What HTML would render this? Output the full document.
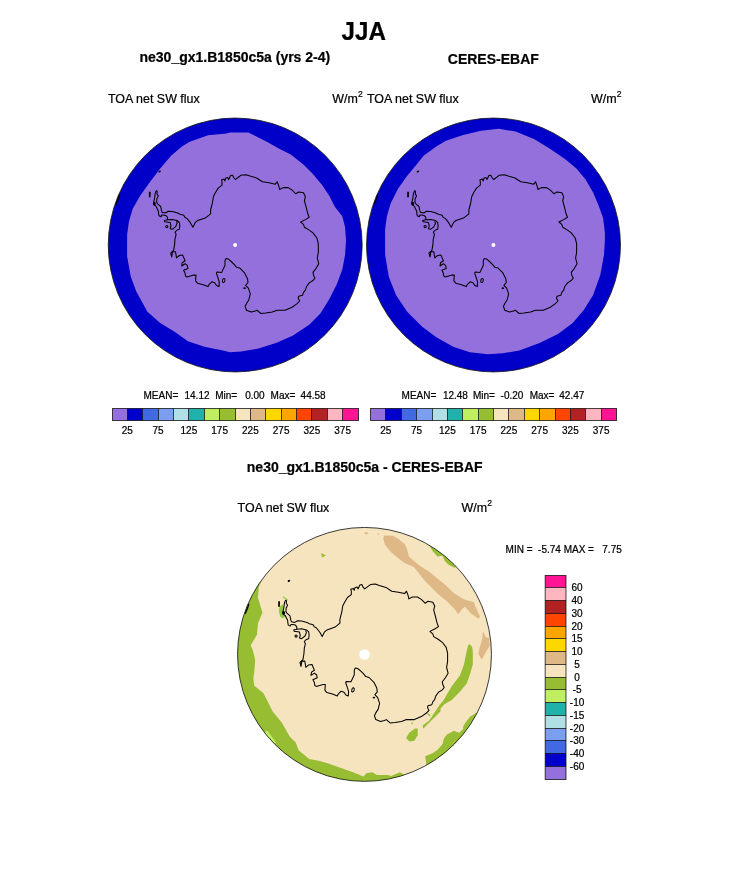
<!DOCTYPE html>
<html><head><meta charset="utf-8"><style>
html,body{margin:0;padding:0;background:#fff;}
svg{display:block;}
text{font-family:"Liberation Sans",sans-serif;fill:#000;stroke:#000;stroke-width:0.22px;}
svg{-webkit-font-smoothing:antialiased;}
.b{font-weight:bold;}
</style></head><body>
<div style="will-change:transform;width:733px;height:882px;background:#fff"><svg width="733" height="882" viewBox="0 0 733 882">
<defs>
<clipPath id="cL"><circle cx="235.2" cy="245.0" r="126.95"/></clipPath>
<clipPath id="cR"><circle cx="493.5" cy="245.0" r="126.95"/></clipPath>
<clipPath id="cB"><circle cx="364.5" cy="654.4" r="126.95"/></clipPath>
</defs>
<rect width="733" height="882" fill="#fff"/>
<text class="b" x="341.6" y="40.1" font-size="24.2" transform="translate(0,40.1) scale(1,1.06) translate(0,-40.1)">JJA</text>
<text class="b" x="139.5" y="61.9" font-size="14.0">ne30_gx1.B1850c5a (yrs 2-4)</text>
<text class="b" x="447.8" y="63.7" font-size="14.0">CERES-EBAF</text>
<text x="108" y="102.9" font-size="12.45">TOA net SW flux</text>
<text x="332.2" y="102.7" font-size="12.45">W/m<tspan font-size="8.6" dy="-6.1" dx="0.3">2</tspan></text>
<text x="367" y="102.9" font-size="12.45">TOA net SW flux</text>
<text x="591" y="102.7" font-size="12.45">W/m<tspan font-size="8.6" dy="-6.1" dx="0.3">2</tspan></text>

<!-- left map -->
<g clip-path="url(#cL)">
<circle cx="235.2" cy="245.0" r="127.95" fill="#0000C8"/>
<path d="M230.0,132.5 L248.4,132.5 L253.9,135.3 L266.8,141.7 L279.7,149.1 L290.8,154.6 L303.7,164.7 L312.9,173.9 L322.1,185.0 L329.4,196.0 L335.0,207.1 L342.3,216.3 L345.1,227.3 L346.0,240.2 L345.1,254.7 L342.3,269.5 L336.8,284.2 L329.4,298.9 L320.2,313.7 L309.2,324.7 L292.6,335.8 L276.0,343.1 L257.6,348.7 L241.0,351.4 L230.0,352.3 L222.9,350.5 L204.4,346.8 L187.9,341.3 L175.0,332.1 L160.2,322.9 L147.4,311.8 L136.3,291.6 L130.8,276.8 L127.1,256.6 L127.1,240.0 L127.1,234.7 L128.9,221.8 L132.6,208.9 L140.0,196.0 L149.2,183.1 L160.2,168.4 L171.3,155.5 L182.3,146.3 L189.7,141.7 L208.1,135.3 L226.5,133.4Z" fill="#9370DB"/>
</g>
<g transform="translate(235.2,245.0)" fill="none" stroke="#000" stroke-width="1.05" stroke-linejoin="round">
<path d="M-77.9,-53.9 L-78.3,-51.1 L-76.9,-49.1 L-78.3,-46.4 L-78.6,-42.9 L-77.6,-41.2 L-74.5,-38.5 L-73.8,-34.8 L-73.1,-32.7 L-69.7,-32.0 L-67.0,-33.7 L-62.9,-33.4 L-57.5,-32.0 L-55.2,-30.7 L-51.4,-29.7 L-50.4,-27.8 L-48.0,-26.4 L-44.7,-22.1 L-42.3,-17.8 L-39.9,-22.6 L-37.5,-24.5 L-29.4,-27.3 L-24.6,-31.2 L-24.6,-35.0 L-22.7,-42.6 L-21.8,-48.3 L-19.9,-52.2 L-17.0,-56.9 L-13.2,-59.8 L-13.2,-63.6 L-13.7,-65.1 L-11.3,-66.0 L-10.3,-64.1 L-9.4,-67.0 L-7.4,-67.4 L-6.5,-65.5 L-4.6,-69.4 L-2.7,-69.8 L-1.2,-67.0 L0.2,-65.5 L5.9,-69.8 L10.7,-70.3 L14.8,-68.9 L21.5,-67.0 L27.2,-63.2 L33.9,-62.2 L40.1,-60.8 L42.0,-63.2 L43.5,-59.3 L44.4,-55.5 L47.8,-57.4 L53.0,-57.4 L56.8,-55.0 L60.6,-51.2 L63.5,-53.1 L68.3,-52.2 L70.2,-48.3 L69.2,-44.5 L71.2,-36.9 L72.6,-31.2 L74.0,-27.8 L70.2,-25.4 L65.4,-23.0 L68.3,-20.6 L69.2,-17.8 L74.0,-14.9 L77.8,-12.1 L81.7,-7.0 L83.1,-1.3 L83.1,7.3 L82.1,13.1 L83.6,18.8 L80.7,23.6 L77.8,27.4 L78.3,30.2 L79.7,33.1 L77.8,35.5 L74.0,37.9 L71.2,41.7 L70.2,45.1 L68.3,47.4 L67.3,50.3 L63.5,51.3 L63.0,53.2 L64.5,56.0 L61.6,58.9 L56.8,62.2 L49.8,65.2 L41.9,65.2 L37.1,67.1 L30.4,68.0 L25.6,68.5 L21.8,65.2 L19.9,66.1 L16.1,67.1 L11.3,65.2 L9.9,61.4 L11.3,58.5 L13.7,54.7 L15.1,48.9 L13.2,43.2 L10.4,40.3 L12.8,37.5 L12.3,33.7 L9.4,27.9 L4.6,23.1 L1.3,22.2 L-1.1,19.3 L-4.0,16.5 L-6.8,14.1 L-9.2,13.6 L-10.2,15.5 L-10.2,20.3 L-13.5,27.4 L-18.3,27.0 L-18.8,28.4 L-16.9,33.7 L-15.9,37.5 L-16.2,41.6 L-18.6,40.6 L-20.5,37.8 L-23.4,36.8 L-26.3,39.7 L-27.2,41.6 L-32.0,39.7 L-37.7,38.2 L-39.6,35.8 L-39.2,30.1 L-41.5,30.1 L-48.2,32.0 L-49.7,31.1 L-50.1,28.2 L-51.6,25.3 L-47.3,23.4 L-47.8,20.6 L-50.1,18.7 L-53.5,21.0 L-53.0,17.7 L-50.1,15.8 L-52.5,10.1 L-55.9,10.5 L-58.7,12.9 L-59.7,6.7 L-62.6,6.7 L-63.5,12.0 L-64.5,8.1 L-61.6,5.3 L-60.6,-0.4 L-60.2,-6.2 L-59.2,-10.0 L-59.2,-10.9 L-60.2,-12.9 L-58.1,-15.0 L-55.8,-15.7 L-55.4,-19.1 L-55.8,-22.5 L-58.1,-24.5 L-62.9,-25.6 L-67.7,-25.2 L-70.8,-24.5 L-70.4,-23.2 L-65.0,-22.5 L-64.3,-19.1 L-65.0,-16.3 L-62.9,-15.7 L-59.5,-18.4 L-58.1,-21.8 L-58.8,-23.8"/>
<path d="M-67.7,-25.2 L-67.7,-27.6 L-69.1,-29.3 L-71.8,-30.0 L-73.5,-30.0 L-74.2,-28.3 L-76.2,-29.3 L-76.6,-31.4 L-76.9,-34.1 L-77.9,-36.1 L-79.3,-38.9 L-81.3,-40.2 L-81.7,-42.3 L-80.7,-46.4 L-80.0,-51.8 L-78.9,-54.2 L-77.9,-53.9"/>
<circle cx="-68.4" cy="-18.4" r="1.1"/>
<ellipse cx="-11.5" cy="35.5" rx="1.2" ry="2.1" transform="rotate(15 -11.5 35.5)"/>
<ellipse cx="-80.8" cy="-41.4" rx="1.4" ry="1.9" fill="#000" stroke="none"/>
<path d="M-85.4,-53.2 L-85.5,-47.7" stroke-width="1.7"/>
<ellipse cx="-75.6" cy="-73.5" rx="1.4" ry="0.9" transform="rotate(-30 -75.6 -73.5)" fill="#000" stroke="none"/>
<ellipse cx="9.4" cy="43.2" rx="1.3" ry="0.9" fill="#000" stroke="none"/>
<path d="M-115.7,-50.6 L-116.9,-46.5 L-119.4,-40.8" stroke-width="1.4"/>
</g>
<circle cx="235.1" cy="245.1" r="2" fill="#fff"/>
<circle cx="235.2" cy="245.0" r="126.95" fill="none" stroke="#1a1a1a" stroke-width="0.85"/>

<!-- right map -->
<g clip-path="url(#cR)">
<circle cx="493.5" cy="245.0" r="127.95" fill="#0000C8"/>
<path d="M480.9,130.7 L499.0,128.8 L515.6,131.6 L534.0,138.9 L548.8,148.1 L565.3,159.2 L576.4,168.4 L585.6,179.5 L593.0,192.3 L598.5,205.2 L603.1,218.1 L604.9,232.9 L604.9,240.0 L604.0,254.7 L600.3,275.0 L593.0,295.2 L583.8,310.0 L572.7,322.9 L558.0,333.9 L539.6,343.1 L519.3,350.5 L502.7,353.3 L488.0,354.2 L469.8,352.3 L453.2,346.8 L436.7,337.6 L421.9,326.6 L407.2,311.8 L396.1,295.2 L388.8,276.8 L385.1,254.7 L385.1,240.0 L385.1,229.2 L386.9,216.3 L390.6,203.4 L398.0,188.7 L407.2,175.8 L416.4,164.7 L423.8,155.5 L436.7,146.3 L445.9,140.8 L462.4,135.3Z" fill="#9370DB"/>
</g>
<g transform="translate(493.5,245.0)" fill="none" stroke="#000" stroke-width="1.05" stroke-linejoin="round">
<path d="M-77.9,-53.9 L-78.3,-51.1 L-76.9,-49.1 L-78.3,-46.4 L-78.6,-42.9 L-77.6,-41.2 L-74.5,-38.5 L-73.8,-34.8 L-73.1,-32.7 L-69.7,-32.0 L-67.0,-33.7 L-62.9,-33.4 L-57.5,-32.0 L-55.2,-30.7 L-51.4,-29.7 L-50.4,-27.8 L-48.0,-26.4 L-44.7,-22.1 L-42.3,-17.8 L-39.9,-22.6 L-37.5,-24.5 L-29.4,-27.3 L-24.6,-31.2 L-24.6,-35.0 L-22.7,-42.6 L-21.8,-48.3 L-19.9,-52.2 L-17.0,-56.9 L-13.2,-59.8 L-13.2,-63.6 L-13.7,-65.1 L-11.3,-66.0 L-10.3,-64.1 L-9.4,-67.0 L-7.4,-67.4 L-6.5,-65.5 L-4.6,-69.4 L-2.7,-69.8 L-1.2,-67.0 L0.2,-65.5 L5.9,-69.8 L10.7,-70.3 L14.8,-68.9 L21.5,-67.0 L27.2,-63.2 L33.9,-62.2 L40.1,-60.8 L42.0,-63.2 L43.5,-59.3 L44.4,-55.5 L47.8,-57.4 L53.0,-57.4 L56.8,-55.0 L60.6,-51.2 L63.5,-53.1 L68.3,-52.2 L70.2,-48.3 L69.2,-44.5 L71.2,-36.9 L72.6,-31.2 L74.0,-27.8 L70.2,-25.4 L65.4,-23.0 L68.3,-20.6 L69.2,-17.8 L74.0,-14.9 L77.8,-12.1 L81.7,-7.0 L83.1,-1.3 L83.1,7.3 L82.1,13.1 L83.6,18.8 L80.7,23.6 L77.8,27.4 L78.3,30.2 L79.7,33.1 L77.8,35.5 L74.0,37.9 L71.2,41.7 L70.2,45.1 L68.3,47.4 L67.3,50.3 L63.5,51.3 L63.0,53.2 L64.5,56.0 L61.6,58.9 L56.8,62.2 L49.8,65.2 L41.9,65.2 L37.1,67.1 L30.4,68.0 L25.6,68.5 L21.8,65.2 L19.9,66.1 L16.1,67.1 L11.3,65.2 L9.9,61.4 L11.3,58.5 L13.7,54.7 L15.1,48.9 L13.2,43.2 L10.4,40.3 L12.8,37.5 L12.3,33.7 L9.4,27.9 L4.6,23.1 L1.3,22.2 L-1.1,19.3 L-4.0,16.5 L-6.8,14.1 L-9.2,13.6 L-10.2,15.5 L-10.2,20.3 L-13.5,27.4 L-18.3,27.0 L-18.8,28.4 L-16.9,33.7 L-15.9,37.5 L-16.2,41.6 L-18.6,40.6 L-20.5,37.8 L-23.4,36.8 L-26.3,39.7 L-27.2,41.6 L-32.0,39.7 L-37.7,38.2 L-39.6,35.8 L-39.2,30.1 L-41.5,30.1 L-48.2,32.0 L-49.7,31.1 L-50.1,28.2 L-51.6,25.3 L-47.3,23.4 L-47.8,20.6 L-50.1,18.7 L-53.5,21.0 L-53.0,17.7 L-50.1,15.8 L-52.5,10.1 L-55.9,10.5 L-58.7,12.9 L-59.7,6.7 L-62.6,6.7 L-63.5,12.0 L-64.5,8.1 L-61.6,5.3 L-60.6,-0.4 L-60.2,-6.2 L-59.2,-10.0 L-59.2,-10.9 L-60.2,-12.9 L-58.1,-15.0 L-55.8,-15.7 L-55.4,-19.1 L-55.8,-22.5 L-58.1,-24.5 L-62.9,-25.6 L-67.7,-25.2 L-70.8,-24.5 L-70.4,-23.2 L-65.0,-22.5 L-64.3,-19.1 L-65.0,-16.3 L-62.9,-15.7 L-59.5,-18.4 L-58.1,-21.8 L-58.8,-23.8"/>
<path d="M-67.7,-25.2 L-67.7,-27.6 L-69.1,-29.3 L-71.8,-30.0 L-73.5,-30.0 L-74.2,-28.3 L-76.2,-29.3 L-76.6,-31.4 L-76.9,-34.1 L-77.9,-36.1 L-79.3,-38.9 L-81.3,-40.2 L-81.7,-42.3 L-80.7,-46.4 L-80.0,-51.8 L-78.9,-54.2 L-77.9,-53.9"/>
<circle cx="-68.4" cy="-18.4" r="1.1"/>
<ellipse cx="-11.5" cy="35.5" rx="1.2" ry="2.1" transform="rotate(15 -11.5 35.5)"/>
<ellipse cx="-80.8" cy="-41.4" rx="1.4" ry="1.9" fill="#000" stroke="none"/>
<path d="M-85.4,-53.2 L-85.5,-47.7" stroke-width="1.7"/>
<ellipse cx="-75.6" cy="-73.5" rx="1.4" ry="0.9" transform="rotate(-30 -75.6 -73.5)" fill="#000" stroke="none"/>
<ellipse cx="9.4" cy="43.2" rx="1.3" ry="0.9" fill="#000" stroke="none"/>
<path d="M-115.7,-50.6 L-116.9,-46.5 L-119.4,-40.8" stroke-width="1.4"/>
</g>
<circle cx="493.4" cy="245.1" r="2" fill="#fff"/>
<circle cx="493.5" cy="245.0" r="126.95" fill="none" stroke="#1a1a1a" stroke-width="0.85"/>

<text x="143.5" y="399.3" font-size="10">MEAN=</text>
<text x="184.5" y="399.3" font-size="10">14.12</text>
<text x="215.2" y="399.3" font-size="10">Min=</text>
<text x="245.2" y="399.3" font-size="10">0.00</text>
<text x="270.6" y="399.3" font-size="10">Max=</text>
<text x="300.6" y="399.3" font-size="10">44.58</text>
<rect x="112.50" y="408.5" width="15.00" height="12.0" fill="#9370DB"/><rect x="127.50" y="408.5" width="15.00" height="12.0" fill="#0000CD"/><rect x="142.50" y="408.5" width="16.00" height="12.0" fill="#4169E1"/><rect x="158.50" y="408.5" width="15.00" height="12.0" fill="#7B9EF0"/><rect x="173.50" y="408.5" width="15.00" height="12.0" fill="#B0E0E6"/><rect x="188.50" y="408.5" width="16.00" height="12.0" fill="#20B2AA"/><rect x="204.50" y="408.5" width="15.00" height="12.0" fill="#BFEF60"/><rect x="219.50" y="408.5" width="16.00" height="12.0" fill="#97BD32"/><rect x="235.50" y="408.5" width="15.00" height="12.0" fill="#F5E4BE"/><rect x="250.50" y="408.5" width="15.00" height="12.0" fill="#DEB887"/><rect x="265.50" y="408.5" width="16.00" height="12.0" fill="#FFD700"/><rect x="281.50" y="408.5" width="15.00" height="12.0" fill="#FFA500"/><rect x="296.50" y="408.5" width="15.00" height="12.0" fill="#FF4500"/><rect x="311.50" y="408.5" width="16.00" height="12.0" fill="#B22222"/><rect x="327.50" y="408.5" width="15.00" height="12.0" fill="#FFB6C1"/><rect x="342.50" y="408.5" width="16.00" height="12.0" fill="#FF1493"/><line x1="127.50" y1="408.5" x2="127.50" y2="420.5" stroke="#000" stroke-width="1" stroke-opacity="0.72"/><line x1="142.50" y1="408.5" x2="142.50" y2="420.5" stroke="#000" stroke-width="1" stroke-opacity="0.72"/><line x1="158.50" y1="408.5" x2="158.50" y2="420.5" stroke="#000" stroke-width="1" stroke-opacity="0.72"/><line x1="173.50" y1="408.5" x2="173.50" y2="420.5" stroke="#000" stroke-width="1" stroke-opacity="0.72"/><line x1="188.50" y1="408.5" x2="188.50" y2="420.5" stroke="#000" stroke-width="1" stroke-opacity="0.72"/><line x1="204.50" y1="408.5" x2="204.50" y2="420.5" stroke="#000" stroke-width="1" stroke-opacity="0.72"/><line x1="219.50" y1="408.5" x2="219.50" y2="420.5" stroke="#000" stroke-width="1" stroke-opacity="0.72"/><line x1="235.50" y1="408.5" x2="235.50" y2="420.5" stroke="#000" stroke-width="1" stroke-opacity="0.72"/><line x1="250.50" y1="408.5" x2="250.50" y2="420.5" stroke="#000" stroke-width="1" stroke-opacity="0.72"/><line x1="265.50" y1="408.5" x2="265.50" y2="420.5" stroke="#000" stroke-width="1" stroke-opacity="0.72"/><line x1="281.50" y1="408.5" x2="281.50" y2="420.5" stroke="#000" stroke-width="1" stroke-opacity="0.72"/><line x1="296.50" y1="408.5" x2="296.50" y2="420.5" stroke="#000" stroke-width="1" stroke-opacity="0.72"/><line x1="311.50" y1="408.5" x2="311.50" y2="420.5" stroke="#000" stroke-width="1" stroke-opacity="0.72"/><line x1="327.50" y1="408.5" x2="327.50" y2="420.5" stroke="#000" stroke-width="1" stroke-opacity="0.72"/><line x1="342.50" y1="408.5" x2="342.50" y2="420.5" stroke="#000" stroke-width="1" stroke-opacity="0.72"/><rect x="112.5" y="408.5" width="246.00" height="12.0" fill="none" stroke="#000" stroke-width="1" stroke-opacity="0.72"/><text x="127.38" y="434.2" text-anchor="middle" font-size="10">25</text><text x="158.12" y="434.2" text-anchor="middle" font-size="10">75</text><text x="188.88" y="434.2" text-anchor="middle" font-size="10">125</text><text x="219.62" y="434.2" text-anchor="middle" font-size="10">175</text><text x="250.38" y="434.2" text-anchor="middle" font-size="10">225</text><text x="281.12" y="434.2" text-anchor="middle" font-size="10">275</text><text x="311.88" y="434.2" text-anchor="middle" font-size="10">325</text><text x="342.62" y="434.2" text-anchor="middle" font-size="10">375</text>

<text x="401.6" y="399.3" font-size="10">MEAN=</text>
<text x="442.9" y="399.3" font-size="10">12.48</text>
<text x="472.9" y="399.3" font-size="10">Min=</text>
<text x="500.6" y="399.3" font-size="10">-0.20</text>
<text x="529.7" y="399.3" font-size="10">Max=</text>
<text x="559.3" y="399.3" font-size="10">42.47</text>
<rect x="370.50" y="408.5" width="15.00" height="12.0" fill="#9370DB"/><rect x="385.50" y="408.5" width="16.00" height="12.0" fill="#0000CD"/><rect x="401.50" y="408.5" width="15.00" height="12.0" fill="#4169E1"/><rect x="416.50" y="408.5" width="16.00" height="12.0" fill="#7B9EF0"/><rect x="432.50" y="408.5" width="15.00" height="12.0" fill="#B0E0E6"/><rect x="447.50" y="408.5" width="15.00" height="12.0" fill="#20B2AA"/><rect x="462.50" y="408.5" width="16.00" height="12.0" fill="#BFEF60"/><rect x="478.50" y="408.5" width="15.00" height="12.0" fill="#97BD32"/><rect x="493.50" y="408.5" width="15.00" height="12.0" fill="#F5E4BE"/><rect x="508.50" y="408.5" width="16.00" height="12.0" fill="#DEB887"/><rect x="524.50" y="408.5" width="15.00" height="12.0" fill="#FFD700"/><rect x="539.50" y="408.5" width="16.00" height="12.0" fill="#FFA500"/><rect x="555.50" y="408.5" width="15.00" height="12.0" fill="#FF4500"/><rect x="570.50" y="408.5" width="15.00" height="12.0" fill="#B22222"/><rect x="585.50" y="408.5" width="16.00" height="12.0" fill="#FFB6C1"/><rect x="601.50" y="408.5" width="15.00" height="12.0" fill="#FF1493"/><line x1="385.50" y1="408.5" x2="385.50" y2="420.5" stroke="#000" stroke-width="1" stroke-opacity="0.72"/><line x1="401.50" y1="408.5" x2="401.50" y2="420.5" stroke="#000" stroke-width="1" stroke-opacity="0.72"/><line x1="416.50" y1="408.5" x2="416.50" y2="420.5" stroke="#000" stroke-width="1" stroke-opacity="0.72"/><line x1="432.50" y1="408.5" x2="432.50" y2="420.5" stroke="#000" stroke-width="1" stroke-opacity="0.72"/><line x1="447.50" y1="408.5" x2="447.50" y2="420.5" stroke="#000" stroke-width="1" stroke-opacity="0.72"/><line x1="462.50" y1="408.5" x2="462.50" y2="420.5" stroke="#000" stroke-width="1" stroke-opacity="0.72"/><line x1="478.50" y1="408.5" x2="478.50" y2="420.5" stroke="#000" stroke-width="1" stroke-opacity="0.72"/><line x1="493.50" y1="408.5" x2="493.50" y2="420.5" stroke="#000" stroke-width="1" stroke-opacity="0.72"/><line x1="508.50" y1="408.5" x2="508.50" y2="420.5" stroke="#000" stroke-width="1" stroke-opacity="0.72"/><line x1="524.50" y1="408.5" x2="524.50" y2="420.5" stroke="#000" stroke-width="1" stroke-opacity="0.72"/><line x1="539.50" y1="408.5" x2="539.50" y2="420.5" stroke="#000" stroke-width="1" stroke-opacity="0.72"/><line x1="555.50" y1="408.5" x2="555.50" y2="420.5" stroke="#000" stroke-width="1" stroke-opacity="0.72"/><line x1="570.50" y1="408.5" x2="570.50" y2="420.5" stroke="#000" stroke-width="1" stroke-opacity="0.72"/><line x1="585.50" y1="408.5" x2="585.50" y2="420.5" stroke="#000" stroke-width="1" stroke-opacity="0.72"/><line x1="601.50" y1="408.5" x2="601.50" y2="420.5" stroke="#000" stroke-width="1" stroke-opacity="0.72"/><rect x="370.5" y="408.5" width="246.00" height="12.0" fill="none" stroke="#000" stroke-width="1" stroke-opacity="0.72"/><text x="385.88" y="434.2" text-anchor="middle" font-size="10">25</text><text x="416.62" y="434.2" text-anchor="middle" font-size="10">75</text><text x="447.38" y="434.2" text-anchor="middle" font-size="10">125</text><text x="478.12" y="434.2" text-anchor="middle" font-size="10">175</text><text x="508.88" y="434.2" text-anchor="middle" font-size="10">225</text><text x="539.62" y="434.2" text-anchor="middle" font-size="10">275</text><text x="570.38" y="434.2" text-anchor="middle" font-size="10">325</text><text x="601.12" y="434.2" text-anchor="middle" font-size="10">375</text>

<text class="b" x="246.8" y="471.6" font-size="14.0">ne30_gx1.B1850c5a - CERES-EBAF</text>
<text x="237.6" y="511.8" font-size="12.45">TOA net SW flux</text>
<text x="461.5" y="512.2" font-size="12.45">W/m<tspan font-size="8.6" dy="-6.1" dx="0.3">2</tspan></text>
<text x="505.6" y="553" font-size="10" xml:space="preserve">MIN =  -5.74 MAX =   7.75</text>

<!-- bottom map -->
<g clip-path="url(#cB)">
<circle cx="364.5" cy="654.4" r="127.95" fill="#F5E4BE"/>
<path d="M384.0,535.5 L393.0,535.8 L399.0,539.3 L405.0,544.5 L407.3,549.8 L408.8,556.5 L418.5,564.8 L423.0,567.8 L429.0,571.5 L438.0,579.0 L445.5,585.0 L453.0,592.5 L463.5,599.3 L474.0,602.3 L475.5,606.8 L480.0,616.5 L478.5,618.8 L471.0,613.5 L465.0,606.8 L462.0,609.0 L458.3,614.3 L454.5,609.0 L447.0,601.5 L438.0,594.0 L426.0,582.0 L421.5,576.8 L414.0,567.0 L405.0,563.3 L399.0,558.8 L390.0,551.3 L384.8,544.5 L383.3,538.5Z" fill="#DEB887"/>
<path d="M483.0,631.1 L485.7,637.2 L489.2,637.9 L489.8,645.4 L485.7,652.2 L481.7,659.7 L478.3,653.6 L480.3,645.4 L482.3,638.6Z" fill="#DEB887"/>
<ellipse cx="366.4" cy="533.2" rx="2" ry="1" fill="#DEB887"/>
<circle cx="378.3" cy="534.1" r="0.8" fill="#DEB887"/>
<path d="M261.6,581.1 L258.9,586.6 L257.9,597.7 L262.5,612.4 L257.9,623.4 L257.0,634.5 L250.6,645.5 L252.4,649.0 L255.2,660.0 L254.3,671.1 L253.3,678.5 L254.3,685.8 L263.5,693.2 L272.7,711.6 L281.9,722.7 L290.0,736.9 L295.7,742.6 L298.6,750.3 L309.1,758.9 L318.6,760.8 L328.2,763.6 L339.7,767.5 L353.0,772.2 L363.5,776.6 L366.4,773.2 L372.1,772.2 L376.9,775.1 L387.4,775.1 L391.2,776.1 L399.8,772.2 L404.6,775.1 L410.0,800.0 L220.0,800.0 L220.0,575.0 L258.0,575.0Z" fill="#97BD32"/>
<path d="M476.4,712.8 L470.3,716.4 L466.2,721.5 L463.1,726.6 L463.1,729.2 L459.0,732.7 L453.9,730.7 L446.7,734.8 L443.7,738.9 L442.6,744.0 L437.5,750.1 L432.4,753.2 L425.2,756.3 L426.3,764.5 L426.0,790.0 L520.0,790.0 L520.0,712.8Z" fill="#97BD32"/>
<path d="M430.5,547.5 L432.8,551.3 L437.3,556.5 L442.5,555.8 L444.8,561.0 L448.5,564.8 L454.5,567.8 L470.0,560.0 L440.0,530.0 L425.0,540.0Z" fill="#97BD32"/>
<path d="M469.4,644.1 L472.1,646.8 L472.8,650.9 L472.8,664.5 L470.1,674.0 L466.7,683.5 L459.9,691.7 L451.8,700.0 L444.7,704.1 L440.6,708.2 L440.6,711.3 L434.4,717.4 L428.3,723.5 L423.2,728.7 L422.7,725.6 L429.3,720.5 L433.4,714.3 L439.6,705.1 L443.7,700.0 L451.7,686.2 L459.9,675.4 L464.0,664.5 L466.7,650.9 L468.1,645.4Z" fill="#97BD32"/>
<path d="M417.7,728.4 L417.7,735.3 L414.3,740.7 L409.5,741.4 L406.1,738.0 L409.5,732.5 L415.0,728.4Z" fill="#97BD32"/>
<path d="M321.0,553.0 L326.0,555.5 L322.0,557.5Z" fill="#97BD32"/>
<path d="M427.3,713.3 L430.3,715.9" stroke="#97BD32" stroke-width="1.2"/>
<circle cx="412.2" cy="723.3" r="0.9" fill="#97BD32"/>
<path d="M282.3,604.3 L279.4,607.2 L278.8,611.3 L280.2,616.6 L282.3,618.2 L285.1,617.0 L283.5,612.9 L283.5,606.4Z" fill="#8FCB3A"/>
<path d="M283.1,596.2 L287.9,599.4 L287.2,600.3 L282.6,597.2Z" fill="#8FCB3A"/>
<path d="M265.5,731.5 L267.5,730.8 L276,742.5 L275,743.5 L263,733 Z" fill="#C1F060"/>
</g>
<g transform="translate(364.5,654.4)" fill="none" stroke="#000" stroke-width="1.05" stroke-linejoin="round">
<path d="M-77.9,-53.9 L-78.3,-51.1 L-76.9,-49.1 L-78.3,-46.4 L-78.6,-42.9 L-77.6,-41.2 L-74.5,-38.5 L-73.8,-34.8 L-73.1,-32.7 L-69.7,-32.0 L-67.0,-33.7 L-62.9,-33.4 L-57.5,-32.0 L-55.2,-30.7 L-51.4,-29.7 L-50.4,-27.8 L-48.0,-26.4 L-44.7,-22.1 L-42.3,-17.8 L-39.9,-22.6 L-37.5,-24.5 L-29.4,-27.3 L-24.6,-31.2 L-24.6,-35.0 L-22.7,-42.6 L-21.8,-48.3 L-19.9,-52.2 L-17.0,-56.9 L-13.2,-59.8 L-13.2,-63.6 L-13.7,-65.1 L-11.3,-66.0 L-10.3,-64.1 L-9.4,-67.0 L-7.4,-67.4 L-6.5,-65.5 L-4.6,-69.4 L-2.7,-69.8 L-1.2,-67.0 L0.2,-65.5 L5.9,-69.8 L10.7,-70.3 L14.8,-68.9 L21.5,-67.0 L27.2,-63.2 L33.9,-62.2 L40.1,-60.8 L42.0,-63.2 L43.5,-59.3 L44.4,-55.5 L47.8,-57.4 L53.0,-57.4 L56.8,-55.0 L60.6,-51.2 L63.5,-53.1 L68.3,-52.2 L70.2,-48.3 L69.2,-44.5 L71.2,-36.9 L72.6,-31.2 L74.0,-27.8 L70.2,-25.4 L65.4,-23.0 L68.3,-20.6 L69.2,-17.8 L74.0,-14.9 L77.8,-12.1 L81.7,-7.0 L83.1,-1.3 L83.1,7.3 L82.1,13.1 L83.6,18.8 L80.7,23.6 L77.8,27.4 L78.3,30.2 L79.7,33.1 L77.8,35.5 L74.0,37.9 L71.2,41.7 L70.2,45.1 L68.3,47.4 L67.3,50.3 L63.5,51.3 L63.0,53.2 L64.5,56.0 L61.6,58.9 L56.8,62.2 L49.8,65.2 L41.9,65.2 L37.1,67.1 L30.4,68.0 L25.6,68.5 L21.8,65.2 L19.9,66.1 L16.1,67.1 L11.3,65.2 L9.9,61.4 L11.3,58.5 L13.7,54.7 L15.1,48.9 L13.2,43.2 L10.4,40.3 L12.8,37.5 L12.3,33.7 L9.4,27.9 L4.6,23.1 L1.3,22.2 L-1.1,19.3 L-4.0,16.5 L-6.8,14.1 L-9.2,13.6 L-10.2,15.5 L-10.2,20.3 L-13.5,27.4 L-18.3,27.0 L-18.8,28.4 L-16.9,33.7 L-15.9,37.5 L-16.2,41.6 L-18.6,40.6 L-20.5,37.8 L-23.4,36.8 L-26.3,39.7 L-27.2,41.6 L-32.0,39.7 L-37.7,38.2 L-39.6,35.8 L-39.2,30.1 L-41.5,30.1 L-48.2,32.0 L-49.7,31.1 L-50.1,28.2 L-51.6,25.3 L-47.3,23.4 L-47.8,20.6 L-50.1,18.7 L-53.5,21.0 L-53.0,17.7 L-50.1,15.8 L-52.5,10.1 L-55.9,10.5 L-58.7,12.9 L-59.7,6.7 L-62.6,6.7 L-63.5,12.0 L-64.5,8.1 L-61.6,5.3 L-60.6,-0.4 L-60.2,-6.2 L-59.2,-10.0 L-59.2,-10.9 L-60.2,-12.9 L-58.1,-15.0 L-55.8,-15.7 L-55.4,-19.1 L-55.8,-22.5 L-58.1,-24.5 L-62.9,-25.6 L-67.7,-25.2 L-70.8,-24.5 L-70.4,-23.2 L-65.0,-22.5 L-64.3,-19.1 L-65.0,-16.3 L-62.9,-15.7 L-59.5,-18.4 L-58.1,-21.8 L-58.8,-23.8"/>
<path d="M-67.7,-25.2 L-67.7,-27.6 L-69.1,-29.3 L-71.8,-30.0 L-73.5,-30.0 L-74.2,-28.3 L-76.2,-29.3 L-76.6,-31.4 L-76.9,-34.1 L-77.9,-36.1 L-79.3,-38.9 L-81.3,-40.2 L-81.7,-42.3 L-80.7,-46.4 L-80.0,-51.8 L-78.9,-54.2 L-77.9,-53.9"/>
<circle cx="-68.4" cy="-18.4" r="1.1"/>
<ellipse cx="-11.5" cy="35.5" rx="1.2" ry="2.1" transform="rotate(15 -11.5 35.5)"/>
<ellipse cx="-80.8" cy="-41.4" rx="1.4" ry="1.9" fill="#000" stroke="none"/>
<path d="M-85.4,-53.2 L-85.5,-47.7" stroke-width="1.7"/>
<ellipse cx="-75.6" cy="-73.5" rx="1.4" ry="0.9" transform="rotate(-30 -75.6 -73.5)" fill="#000" stroke="none"/>
<ellipse cx="9.4" cy="43.2" rx="1.3" ry="0.9" fill="#000" stroke="none"/>
<path d="M-115.7,-50.6 L-116.9,-46.5 L-119.4,-40.8" stroke-width="1.4"/>
</g>
<circle cx="364.5" cy="654.5" r="5.3" fill="#fff"/>
<circle cx="364.5" cy="654.4" r="126.95" fill="none" stroke="#1a1a1a" stroke-width="0.85"/>
<rect x="545.2" y="575.50" width="20.799999999999955" height="12.00" fill="#FF1493"/><rect x="545.2" y="587.50" width="20.799999999999955" height="13.00" fill="#FFB6C1"/><rect x="545.2" y="600.50" width="20.799999999999955" height="13.00" fill="#B22222"/><rect x="545.2" y="613.50" width="20.799999999999955" height="13.00" fill="#FF4500"/><rect x="545.2" y="626.50" width="20.799999999999955" height="12.00" fill="#FFA500"/><rect x="545.2" y="638.50" width="20.799999999999955" height="13.00" fill="#FFD700"/><rect x="545.2" y="651.50" width="20.799999999999955" height="13.00" fill="#DEB887"/><rect x="545.2" y="664.50" width="20.799999999999955" height="13.00" fill="#F5E4BE"/><rect x="545.2" y="677.50" width="20.799999999999955" height="12.00" fill="#97BD32"/><rect x="545.2" y="689.50" width="20.799999999999955" height="13.00" fill="#BFEF60"/><rect x="545.2" y="702.50" width="20.799999999999955" height="13.00" fill="#20B2AA"/><rect x="545.2" y="715.50" width="20.799999999999955" height="13.00" fill="#B0E0E6"/><rect x="545.2" y="728.50" width="20.799999999999955" height="12.00" fill="#7B9EF0"/><rect x="545.2" y="740.50" width="20.799999999999955" height="13.00" fill="#4169E1"/><rect x="545.2" y="753.50" width="20.799999999999955" height="13.00" fill="#0000CD"/><rect x="545.2" y="766.50" width="20.799999999999955" height="13.00" fill="#9370DB"/><line x1="545.2" y1="587.50" x2="566.0" y2="587.50" stroke="#000" stroke-width="1" stroke-opacity="0.72"/><line x1="545.2" y1="600.50" x2="566.0" y2="600.50" stroke="#000" stroke-width="1" stroke-opacity="0.72"/><line x1="545.2" y1="613.50" x2="566.0" y2="613.50" stroke="#000" stroke-width="1" stroke-opacity="0.72"/><line x1="545.2" y1="626.50" x2="566.0" y2="626.50" stroke="#000" stroke-width="1" stroke-opacity="0.72"/><line x1="545.2" y1="638.50" x2="566.0" y2="638.50" stroke="#000" stroke-width="1" stroke-opacity="0.72"/><line x1="545.2" y1="651.50" x2="566.0" y2="651.50" stroke="#000" stroke-width="1" stroke-opacity="0.72"/><line x1="545.2" y1="664.50" x2="566.0" y2="664.50" stroke="#000" stroke-width="1" stroke-opacity="0.72"/><line x1="545.2" y1="677.50" x2="566.0" y2="677.50" stroke="#000" stroke-width="1" stroke-opacity="0.72"/><line x1="545.2" y1="689.50" x2="566.0" y2="689.50" stroke="#000" stroke-width="1" stroke-opacity="0.72"/><line x1="545.2" y1="702.50" x2="566.0" y2="702.50" stroke="#000" stroke-width="1" stroke-opacity="0.72"/><line x1="545.2" y1="715.50" x2="566.0" y2="715.50" stroke="#000" stroke-width="1" stroke-opacity="0.72"/><line x1="545.2" y1="728.50" x2="566.0" y2="728.50" stroke="#000" stroke-width="1" stroke-opacity="0.72"/><line x1="545.2" y1="740.50" x2="566.0" y2="740.50" stroke="#000" stroke-width="1" stroke-opacity="0.72"/><line x1="545.2" y1="753.50" x2="566.0" y2="753.50" stroke="#000" stroke-width="1" stroke-opacity="0.72"/><line x1="545.2" y1="766.50" x2="566.0" y2="766.50" stroke="#000" stroke-width="1" stroke-opacity="0.72"/><rect x="545.2" y="575.5" width="20.799999999999955" height="204.00" fill="none" stroke="#000" stroke-width="1" stroke-opacity="0.72"/><text x="577.1" y="591.45" text-anchor="middle" font-size="10">60</text><text x="577.1" y="604.20" text-anchor="middle" font-size="10">40</text><text x="577.1" y="616.95" text-anchor="middle" font-size="10">30</text><text x="577.1" y="629.70" text-anchor="middle" font-size="10">20</text><text x="577.1" y="642.45" text-anchor="middle" font-size="10">15</text><text x="577.1" y="655.20" text-anchor="middle" font-size="10">10</text><text x="577.1" y="667.95" text-anchor="middle" font-size="10">5</text><text x="577.1" y="680.70" text-anchor="middle" font-size="10">0</text><text x="577.1" y="693.45" text-anchor="middle" font-size="10">-5</text><text x="577.1" y="706.20" text-anchor="middle" font-size="10">-10</text><text x="577.1" y="718.95" text-anchor="middle" font-size="10">-15</text><text x="577.1" y="731.70" text-anchor="middle" font-size="10">-20</text><text x="577.1" y="744.45" text-anchor="middle" font-size="10">-30</text><text x="577.1" y="757.20" text-anchor="middle" font-size="10">-40</text><text x="577.1" y="769.95" text-anchor="middle" font-size="10">-60</text>
</svg></div>
</body></html>
